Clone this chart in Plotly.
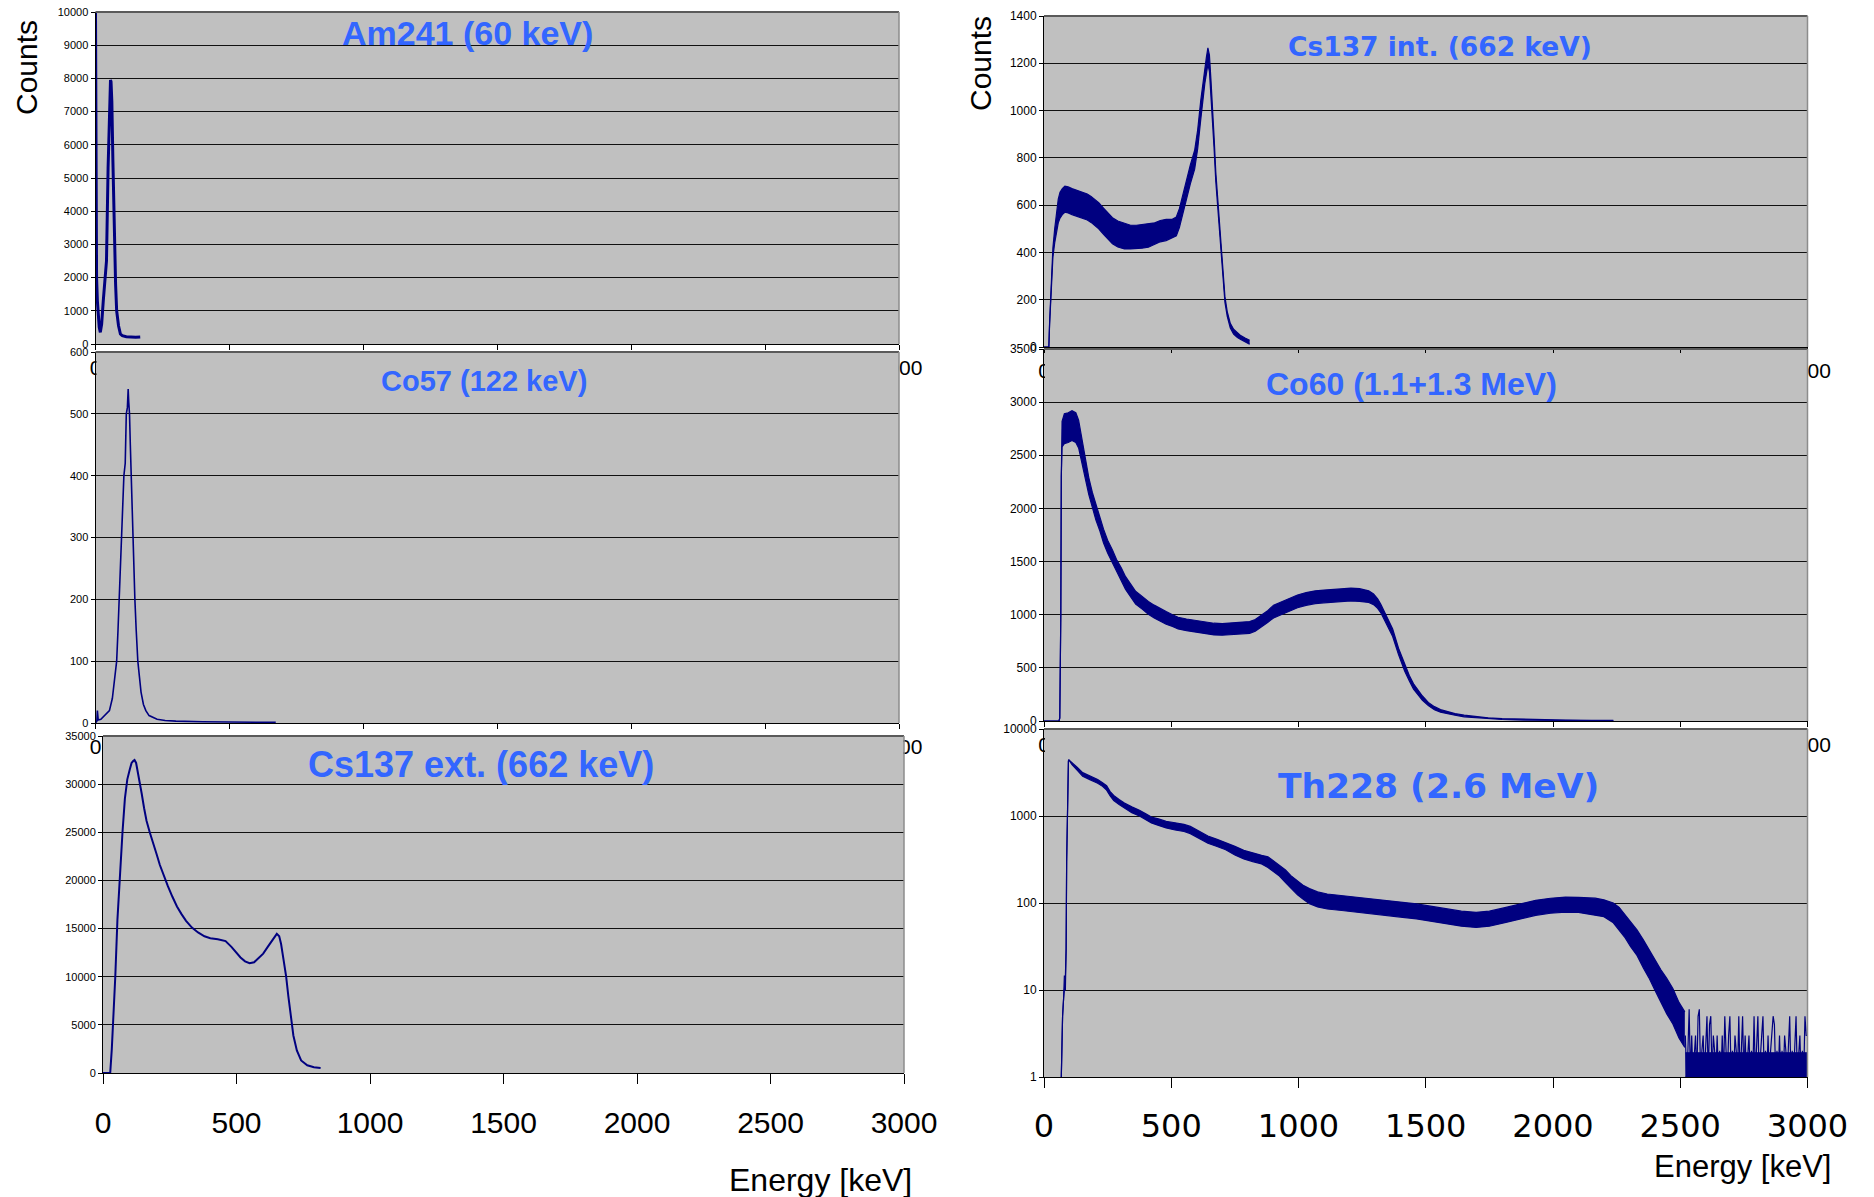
import plotly.graph_objects as go

# ---------------- data ----------------
am_E = [0, 1, 2, 4, 7, 10, 14, 18, 23, 29, 35, 41, 47, 52, 56, 58, 61, 65, 70, 75, 79, 86, 93, 100, 115, 130, 150, 167]
am_C = [10000, 5000, 3300, 2000, 1300, 800, 500, 350, 600, 1300, 1900, 2500, 5300, 7000, 7950, 7900, 7300, 5500, 3300, 1800, 1000, 550, 300, 250, 220, 210, 200, 210]

co57_E = [0, 5, 7, 10, 20, 29, 40, 52, 63, 72, 79, 84, 88, 93, 97, 102, 106, 111, 115, 119, 122, 124, 127, 130, 133, 137, 140,
          144, 147, 152, 158, 164, 170, 179, 188, 200, 210, 230, 260, 300, 400, 500, 600, 673]
co57_C = [0, 3, 20, 5, 6, 10, 15, 20, 40, 70, 100, 150, 200, 260, 300, 370, 400, 420, 500, 510, 540, 520, 500, 450, 400, 340, 300,
          250, 200, 150, 100, 75, 50, 30, 20, 12, 10, 6, 4, 3, 2, 2, 1, 1]

csx_E = [0, 27, 33, 39, 46, 54, 63, 73, 82, 91, 100, 107, 113, 118, 124, 129, 137, 145, 154, 163, 175, 186, 200, 213, 228, 243,
         260, 277, 294, 311, 333, 356, 380, 402, 430, 459, 481, 498, 515, 532, 549, 566, 583, 600, 617, 634, 651, 660, 667, 676,
         686, 694, 702, 713, 726, 742, 765, 790, 815]
csx_C = [0, 0, 2500, 5500, 10000, 15900, 20500, 25000, 28500, 30500, 31500, 32200, 32400, 32500, 32200, 31500, 30300, 29000,
         27500, 26200, 25000, 24100, 22800, 21600, 20400, 19400, 18300, 17300, 16500, 15800, 15100, 14600, 14200, 14000, 13900,
         13700, 13100, 12500, 12000, 11600, 11400, 11500, 11900, 12400, 13100, 13800, 14450, 14200, 13400, 11800, 10000, 8000,
         6000, 3900, 2350, 1300, 800, 600, 520]

csi_E = [0, 19, 22, 26, 30, 35, 42, 49, 56, 63, 72, 82, 95, 110, 125, 140, 155, 170, 185, 200, 215, 234, 250, 269, 290, 316,
         340, 363, 385, 410, 435, 457, 480, 504, 520, 532, 543, 553, 562, 575, 592, 604, 616, 624, 632, 638, 644, 650, 656, 662,
         668, 675, 683, 690, 697, 704, 711, 720, 732, 745, 760, 773, 790, 808]
csi_C = [0, 0, 100, 200, 300, 400, 470, 530, 575, 600, 615, 625, 622, 615, 610, 605, 600, 592, 582, 570, 555, 532, 512, 492,
         478, 470, 465, 465, 468, 472, 480, 490, 495, 500, 510, 545, 592, 635, 679, 730, 792, 880, 1003, 1080, 1150, 1190, 1230,
         1200, 1100, 1000, 870, 720, 600, 500, 400, 300, 200, 140, 90, 65, 50, 40, 30, 20]
csi_H = [0, 0, 5, 10, 15, 20, 30, 40, 50, 55, 55, 55, 55, 55, 55, 55, 55, 55, 55, 55, 55, 55, 55, 55, 55, 55, 50, 50, 50, 50,
         45, 45, 45, 40, 40, 40, 40, 40, 40, 40, 40, 40, 40, 35, 35, 35, 35, 35, 30, 30, 25, 20, 20, 15, 15, 15, 12, 10, 10, 10,
         10, 8, 8, 8]

co60_E = [0, 59, 62, 64, 66, 68, 71, 80, 95, 110, 125, 136, 152, 165, 176, 190, 204, 220, 234, 250, 269, 285, 304, 320, 340,
          360, 387, 410, 433, 455, 480, 505, 527, 560, 597, 630, 668, 700, 738, 770, 808, 830, 855, 880, 902, 925, 949, 970,
          996, 1030, 1066, 1100, 1136, 1170, 1206, 1240, 1276, 1295, 1311, 1323, 1335, 1352, 1370, 1393, 1417, 1435, 1452,
          1470, 1487, 1510, 1534, 1558, 1581, 1615, 1651, 1700, 1745, 1800, 1886, 1960, 2050, 2150, 2237]
co60_C = [0, 0, 30, 500, 1000, 2300, 2700, 2750, 2760, 2780, 2760, 2700, 2500, 2350, 2210, 2080, 1960, 1850, 1740, 1640,
          1550, 1460, 1380, 1300, 1230, 1160, 1110, 1065, 1030, 1000, 970, 945, 921, 905, 890, 877, 865, 862, 866, 872,
          880, 900, 940, 985, 1030, 1055, 1079, 1100, 1126, 1148, 1165, 1172, 1178, 1182, 1190, 1185, 1170, 1145, 1105, 1060,
          1000, 920, 830, 655, 500, 405, 325, 265, 215, 160, 120, 95, 80, 62, 47, 35, 25, 18, 12, 9, 6, 4, 3]
co60_H = [0, 0, 0, 0, 0, 0, 120, 140, 140, 140, 140, 130, 110, 90, 80, 70, 70, 65, 65, 60, 60, 60, 60, 60, 60, 60, 60, 60,
          60, 60, 60, 55, 55, 55, 55, 55, 55, 55, 55, 55, 55, 55, 55, 55, 60, 60, 60, 60, 60, 60, 60, 60, 60, 60, 60, 60, 55,
          50, 45, 40, 40, 40, 35, 30, 30, 25, 25, 20, 20, 15, 15, 12, 10, 8, 8, 6, 5, 4, 3, 3, 2, 2, 2]

th_E = [68, 70, 73, 77, 80, 84, 87, 89, 92, 96, 98, 110, 130, 152, 180, 211, 230, 246, 260, 274, 295, 316, 345, 375, 400,
        422, 450, 480, 515, 550, 575, 597, 620, 644, 680, 714, 750, 785, 820, 855, 880, 902, 925, 949, 970, 996, 1020, 1043,
        1075, 1113, 1170, 1230, 1290, 1347, 1400, 1464, 1520, 1581, 1640, 1698, 1750, 1815, 1870, 1932, 1990, 2049, 2100,
        2166, 2200, 2237, 2260, 2283, 2305, 2330, 2355, 2377, 2400, 2424, 2447, 2471, 2495, 2518]
th_C = [1, 2, 5, 8, 12, 12, 30, 300, 2000, 4300, 4400, 4000, 3500, 3000, 2750, 2500, 2300, 2100, 1800, 1610, 1450, 1320, 1180,
        1080, 980, 900, 850, 795, 760, 730, 690, 640, 590, 535, 490, 450, 400, 360, 335, 315, 295, 265, 235, 203, 175, 149,
        132, 120, 110, 104, 100, 96, 92, 88, 84, 80, 75, 70, 66, 64, 66, 73, 80, 88, 93, 96, 95, 91, 87, 77, 66, 54, 44, 35,
        26, 20, 15, 11, 8.5, 6.5, 4.5, 3.5]
th_F = [1, 1, 1, 1, 1.2, 1.2, 1, 1, 1, 1, 1, 1.03, 1.04, 1.05, 1.05, 1.05, 1.05, 1.06, 1.06, 1.07, 1.07, 1.07, 1.08, 1.08,
        1.08, 1.08, 1.09, 1.09, 1.1, 1.1, 1.1, 1.1, 1.1, 1.1, 1.1, 1.1, 1.12, 1.12, 1.12, 1.12, 1.15, 1.15, 1.15, 1.18, 1.18,
        1.2, 1.2, 1.22, 1.22, 1.22, 1.22, 1.22, 1.22, 1.22, 1.22, 1.22, 1.22, 1.22, 1.22, 1.22, 1.22, 1.22, 1.22, 1.22, 1.22,
        1.22, 1.22, 1.25, 1.25, 1.3, 1.35, 1.35, 1.4, 1.4, 1.45, 1.45, 1.5, 1.55, 1.6, 1.6, 1.6, 1.6]

# counting-noise floor of the Th228 tail (dense band between 1 and 2 counts)
th_floor_E = [2520, 3000]
th_floor_lo = [1, 1]
th_floor_hi = [1.9, 1.9]
th_tail_E = list(range(2520, 3001, 5))
th_tail_C = [3, 1, 2, 6, 1, 3, 1, 2, 3, 1, 5, 6, 1, 2, 3, 1, 2, 5, 1, 4, 5, 1, 3, 2, 1, 3, 1, 2, 1, 3, 1, 5, 2, 1, 3, 5,
             1, 2, 1, 3, 2, 1, 5, 1, 2, 5, 1, 3, 1, 2, 3, 1, 2, 1, 5, 1, 3, 5, 1, 2, 3, 5, 1, 2, 1, 3, 1, 2, 3, 5, 4, 1,
             2, 1, 3, 1, 2, 1, 3, 2, 1, 3, 5, 1, 2, 1, 3, 5, 1, 2, 3, 1, 2, 1, 5, 3, 3]

x_ticks = [0, 500, 1000, 1500, 2000, 2500, 3000]
x_ticktext = ['0', '500', '1000', '1500', '2000', '2500', '3000']

titles = ["Am241 (60 keV)", "Co57 (122 keV)", "Cs137 ext. (662 keV)",
          "Cs137 int. (662 keV)", "Co60 (1.1+1.3 MeV)", "Th228 (2.6 MeV)"]

# ---------------- layout helpers ----------------
W, H = 1874, 1197
def fx(x): return x / W
def fy(y): return 1 - y / H

NAVY = '#000080'
GRID = '#111111'
BG = '#C0C0C0'
BLUE = '#3366FF'
ARIAL = 'Liberation Sans, Arial, sans-serif'
WIDE = 'DejaVu Sans, Verdana, sans-serif'

# panel boxes in pixels: (left, right, top, bottom)
boxes = [
    (95.5, 899, 12, 344),
    (95.5, 899, 352, 723),
    (103, 904, 736, 1073),
    (1044, 1807.5, 16, 347),
    (1044, 1807.5, 349, 721),
    (1044, 1807.5, 729, 1077),
]

fig = go.Figure()

def axes_of(i):
    return ('x%d' % i if i > 1 else 'x'), ('y%d' % i if i > 1 else 'y')

def line_trace(i, E, C, width):
    xa, ya = axes_of(i)
    fig.add_trace(go.Scatter(x=E, y=C, mode='lines', line=dict(color=NAVY, width=width),
                             xaxis=xa, yaxis=ya, showlegend=False, hoverinfo='skip'))

def band_trace(i, E, lo, hi):
    xa, ya = axes_of(i)
    fig.add_trace(go.Scatter(x=E, y=lo, mode='lines', line=dict(color=NAVY, width=1.2),
                             xaxis=xa, yaxis=ya, showlegend=False, hoverinfo='skip'))
    fig.add_trace(go.Scatter(x=E, y=hi, mode='lines', line=dict(color=NAVY, width=1.2),
                             fill='tonexty', fillcolor=NAVY,
                             xaxis=xa, yaxis=ya, showlegend=False, hoverinfo='skip'))

line_trace(1, am_E, am_C, 3)
line_trace(2, co57_E, co57_C, 1.6)
line_trace(3, csx_E, csx_C, 2)
band_trace(4, csi_E, [max(0, c - h) for c, h in zip(csi_C, csi_H)], [c + h for c, h in zip(csi_C, csi_H)])
band_trace(5, co60_E, [max(0, c - h) for c, h in zip(co60_C, co60_H)], [c + h for c, h in zip(co60_C, co60_H)])
band_trace(6, th_E, [c / f for c, f in zip(th_C, th_F)], [c * f for c, f in zip(th_C, th_F)])
band_trace(6, th_floor_E, th_floor_lo, th_floor_hi)
line_trace(6, th_tail_E, th_tail_C, 1.2)

y_specs = [
    dict(range=[0, 10000], dtick=1000),
    dict(range=[0, 600], dtick=100),
    dict(range=[0, 35000], dtick=5000),
    dict(range=[0, 1400], dtick=200),
    dict(range=[0, 3500], dtick=500),
    dict(type='log', range=[0, 4], tickvals=[1, 10, 100, 1000, 10000],
         ticktext=['1', '10', '100', '1000', '10000']),
]

layout = dict(width=W, height=H, margin=dict(l=0, r=0, t=0, b=0, autoexpand=False),
              paper_bgcolor='white', plot_bgcolor=BG, showlegend=False)

shapes = []
for i, (l, r, t, b) in enumerate(boxes, start=1):
    suffix = '' if i == 1 else str(i)
    bottom_row = i in (3, 6)
    right_col = i >= 4
    xa = dict(domain=[fx(l), fx(r)], range=[0, 3000], tickvals=x_ticks, automargin=False,
              showgrid=False, zeroline=False, showline=True, linecolor='black', linewidth=1,
              ticks='outside', ticklen=10 if bottom_row else 5, tickcolor='black', tickwidth=1,
              anchor='y' + suffix)
    if bottom_row:
        xa['ticktext'] = x_ticktext
        xa['tickfont'] = dict(family=WIDE if right_col else ARIAL, size=32 if right_col else 30, color='black')
        xa['ticklabelstandoff'] = 11 if right_col else 13
    else:
        # the upper charts' energy labels are mostly hidden behind the chart below
        xa['ticktext'] = ['0', '', '', '', '', '', '3000']
        xa['tickfont'] = dict(family=ARIAL, size=21, color='black')
        xa['ticklabelstandoff'] = 0
    ya = dict(domain=[fy(b), fy(t)], showgrid=True, gridcolor=GRID, gridwidth=1, automargin=False,
              zeroline=False, showline=True, linecolor='black', linewidth=1,
              ticks='outside', ticklen=4, tickcolor='black',
              tickfont=dict(family=ARIAL, size=12 if right_col else 11, color='black'),
              anchor='x' + suffix)
    spec = y_specs[i - 1]
    ya.update(spec)
    if spec.get('type') != 'log':
        ya['tickformat'] = 'd'
    layout['xaxis' + suffix] = xa
    layout['yaxis' + suffix] = ya

# grey patches of the lower charts that hide the upper charts' labels
for i in (2, 3, 5, 6):
    l, r, t, b = boxes[i - 1]
    shapes.append(dict(type='rect', xref='paper', yref='paper', x0=fx(l + 1), x1=fx(l + 12),
                       y0=fy(t + 40), y1=fy(t + 1), fillcolor=BG, line=dict(width=0), layer='above'))
    shapes.append(dict(type='rect', xref='paper', yref='paper', x0=fx(r - 30), x1=fx(r - 0.5),
                       y0=fy(t + 40), y1=fy(t + 1), fillcolor=BG, line=dict(width=0), layer='above'))

for i, (l, r, t, b) in enumerate(boxes, start=1):
    shapes.append(dict(type='line', xref='paper', yref='paper', x0=fx(l), x1=fx(r), y0=fy(t), y1=fy(t),
                       line=dict(color='#5a5a5a', width=2), layer='above'))
    shapes.append(dict(type='line', xref='paper', yref='paper', x0=fx(r), x1=fx(r), y0=fy(t), y1=fy(b),
                       line=dict(color='#8c8c8c', width=1.5), layer='above'))

layout['shapes'] = shapes

# titles: (center x px, center y px, font, size)
title_pos = [
    (467, 33, ARIAL, 34),
    (484, 381, ARIAL, 29),
    (481, 764, ARIAL, 36),
    (1440, 46, WIDE, 26.5),
    (1411, 384, ARIAL, 32),
    (1438, 786, WIDE, 34.5),
]
ann = []
for txt, (cx, cy, fam, size) in zip(titles, title_pos):
    ann.append(dict(text='<b>%s</b>' % txt, x=fx(cx), y=fy(cy), xref='paper', yref='paper',
                    xanchor='center', yanchor='middle', showarrow=False,
                    font=dict(family=fam, size=size, color=BLUE)))

ann.append(dict(text='Counts', x=fx(26), y=fy(68), xref='paper', yref='paper', textangle=-90,
                xanchor='center', yanchor='middle', showarrow=False,
                font=dict(family=ARIAL, size=30, color='black')))
ann.append(dict(text='Counts', x=fx(980), y=fy(64), xref='paper', yref='paper', textangle=-90,
                xanchor='center', yanchor='middle', showarrow=False,
                font=dict(family=ARIAL, size=30, color='black')))
ann.append(dict(text='Energy [keV]', x=fx(820), y=fy(1180), xref='paper', yref='paper',
                xanchor='center', yanchor='middle', showarrow=False,
                font=dict(family=ARIAL, size=32, color='black')))
ann.append(dict(text='Energy [keV]', x=fx(1742), y=fy(1166), xref='paper', yref='paper',
                xanchor='center', yanchor='middle', showarrow=False,
                font=dict(family=ARIAL, size=31, color='black')))
layout['annotations'] = ann

fig.update_layout(**layout)
fig.write_html("out.html")
